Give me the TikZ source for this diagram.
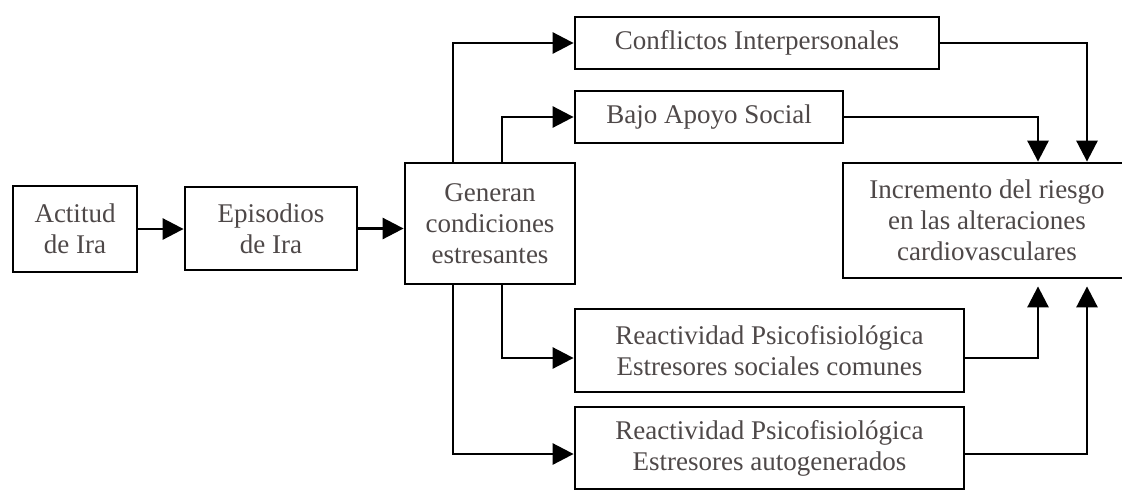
\documentclass[tikz,border=0pt]{standalone}
\usepackage{fontspec}
\setmainfont{Liberation Serif}
\usetikzlibrary{arrows.meta}
\definecolor{txt}{RGB}{78,72,72}
\begin{document}
\begin{tikzpicture}[x=1pt,y=-1pt,
  box/.style={draw=black, line width=2.8pt, text=txt, align=center, inner sep=0pt,
              font=\fontsize{27}{31}\selectfont, anchor=center},
  arr/.style={line width=2.8pt, -{Triangle[length=21pt,width=21pt]}},
  gap/.style={shorten >=7pt}]
\clip (0,0) rectangle (1122,493);
\fill[white] (0,0) rectangle (1122,493);

% boxes
\node[box, minimum width=124pt, minimum height=86pt]  (act) at (75,229)    {Actitud\\de Ira};
\node[box, minimum width=172pt, minimum height=83pt]  (epi) at (271,228.5) {Episodios\\de Ira};
\node[box, minimum width=170pt, minimum height=121pt] (gen) at (490,223.5) {Generan\\condiciones\\estresantes};
\node[box, minimum width=364pt, minimum height=52pt]  (con) at (757,43)    {Conflictos Interpersonales};
\node[box, minimum width=268pt, minimum height=52pt]  (baj) at (709,117)   {Bajo Apoyo Social};
\node[box, minimum width=288pt, minimum height=115pt] (inc) at (987,220.5) {Incremento del riesgo\\en las alteraciones\\cardiovasculares};
\node[box, minimum width=389pt, minimum height=83pt]  (re1) at (769.5,350.5) {Reactividad Psicofisiológica\\Estresores sociales comunes};
\node[box, minimum width=389pt, minimum height=82pt]  (re2) at (769.5,448)   {Reactividad Psicofisiológica\\Estresores autogenerados};

% routing columns and rows
\coordinate (xa) at (453,0);
\coordinate (xb) at (502,0);
\coordinate (xc) at (1038,0);
\coordinate (xd) at (1087,0);
\coordinate (ya) at (0,358);
\coordinate (yb) at (0,454);

% connectors
\draw[arr] (act.east) -- (act.east -| epi.west);
\draw[arr] (epi.east) -- (epi.east -| gen.west);
\draw[arr] (gen.north -| xa) |- (con.west);
\draw[arr] (gen.north -| xb) |- (baj.west);
\draw[arr] (gen.south -| xb) |- (re1.west |- ya);
\draw[arr] (gen.south -| xa) |- (re2.west |- yb);
\draw[arr] (con.east) -| (inc.north -| xd);
\draw[arr] (baj.east) -| (inc.north -| xc);
\draw[arr, gap] (re1.east |- ya) -| (inc.south -| xc);
\draw[arr, gap] (re2.east |- yb) -| (inc.south -| xd);
\end{tikzpicture}
\end{document}
